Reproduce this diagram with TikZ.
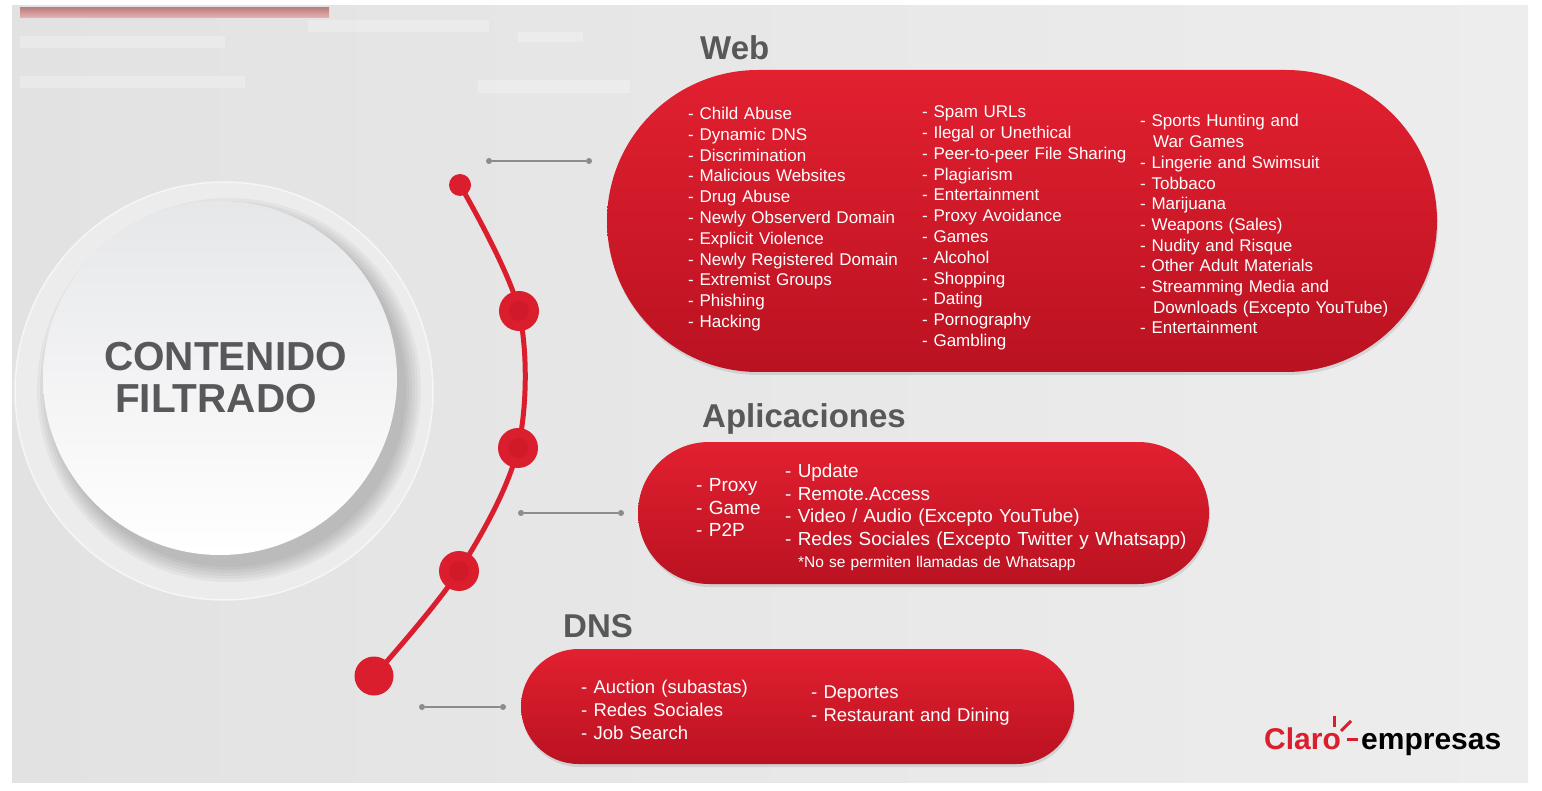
\documentclass[tikz,border=0pt]{standalone}
\usepackage{fontspec}
\setmainfont{Liberation Sans}
\usetikzlibrary{shadows}
\definecolor{claroRed}{RGB}{218,30,45}
\definecolor{pillTop}{RGB}{226,32,48}
\definecolor{pillBottom}{RGB}{186,18,33}
\definecolor{headGray}{RGB}{88,88,90}
\definecolor{lineGray}{RGB}{140,140,140}
\definecolor{panelLeft}{RGB}{226,226,226}
\definecolor{panelRight}{RGB}{237,237,237}
\definecolor{ringGray}{RGB}{236,236,237}
\definecolor{hubTop}{RGB}{230,231,233}
\definecolor{barRose}{RGB}{226,146,146}
\tikzset{
  pill/.style={rectangle, rounded corners=#1, top color=pillTop, bottom color=pillBottom,
    inner sep=0pt, drop shadow={opacity=0.22, shadow xshift=1pt, shadow yshift=-3pt}},
  heading/.style={anchor=base west, inner sep=0pt, text=headGray, font=\fontsize{33}{36}\selectfont\bfseries},
  itemlist/.style={anchor=base west, inner sep=0pt, align=left, text width=420pt, text=white},
  arcdot/.style={circle, fill=claroRed, inner sep=0pt, minimum size=#1},
  endtick/.style={circle, fill=lineGray, inner sep=0pt, minimum size=6pt},
  grayline/.style={lineGray, line width=2.5pt},
  arcline/.style={claroRed, line width=5pt, line cap=round},
}
\begin{document}
\begin{tikzpicture}[x=1pt,y=1pt,yscale=-1,xscale=1]
\useasboundingbox (0,0) rectangle (1542,791);

%Background
\fill[white] (0,0) rectangle (1542,791);
\shade[left color=panelLeft, right color=panelRight] (12,6) rectangle (1528,782);
\shade[top color=barRose!80!black!90, bottom color=barRose!70] (20,8) rectangle (329,18);
\foreach \xa/\ya/\xb/\yb in {308/20/489/32, 518/32/583/42, 20/36/225/48, 20/76/245/88, 478/80/630/93}
  \fill[white, opacity=0.25] (\xa,\ya) rectangle (\xb,\yb);

%Shape: Circle
\fill[ringGray] (224,391) circle [radius=209];
\draw[white, line width=1.5pt, opacity=0.6] (224,391) circle [radius=209];
\foreach \r in {192,189,...,177}
  \fill[black, opacity=0.035] (229,390) circle [radius=\r];
\node[circle, minimum size=354pt, inner sep=0pt, top color=hubTop, bottom color=white] (hub) at (220,378) {};

% Text Node
\node[anchor=base west, inner sep=0pt, align=left, text width=300pt, text=headGray, font=\fontsize{40.5}{42}\selectfont\bfseries]
  (hubtext) at (104,370.7) {CONTENIDO\\\hspace*{11pt}FILTRADO};

%Curve with dots
\coordinate (d0) at (460,185);
\coordinate (d1) at (519,311);
\coordinate (d2) at (518,448);
\coordinate (d3) at (459,571);
\coordinate (d4) at (374,676);
\draw[arcline] plot[smooth, tension=0.55] coordinates {(d0) (d1) (d2) (d3) (d4)};
\node[arcdot=22pt] (dot0) at (d0) {};
\node[arcdot=40pt] (dot1) at (d1) {};
\node[arcdot=40pt] (dot2) at (d2) {};
\node[arcdot=40pt] (dot3) at (d3) {};
\node[arcdot=39pt] (dot4) at (d4) {};
\foreach \d in {dot1,dot2,dot3}
  \fill[pillBottom, opacity=0.3] (\d) circle [radius=10];

%Straight Lines
\node[endtick] (webtickA) at (489,161) {};
\node[endtick] (webtickB) at (589,161) {};
\draw[grayline] (webtickA) -- (webtickB);
\node[endtick] (apptickA) at (521,513) {};
\node[endtick] (apptickB) at (621,513) {};
\draw[grayline] (apptickA) -- (apptickB);
\node[endtick] (dnstickA) at (422,707) {};
\node[endtick] (dnstickB) at (503,707) {};
\draw[grayline] (dnstickA) -- (dnstickB);

%Shape: Rounded Rect
\node[pill=151pt, minimum width=830pt, minimum height=302pt] (webpill) at (1022,221) {};
\node[pill=71pt, minimum width=571pt, minimum height=142pt] (apppill) at (923.5,513) {};
\node[pill=57.5pt, minimum width=553pt, minimum height=115pt] (dnspill) at (797.5,706.5) {};

% Text Node
\node[heading] (webhead) at (700,59.5) {Web};
\node[heading] (apphead) at (702,427) {Aplicaciones};
\node[heading] (dnshead) at (563,637) {DNS};

% Text Node
\node[itemlist, font=\fontsize{17}{20.8}\selectfont] (webcolA) at (688,119.5)
  {- Child Abuse\\- Dynamic DNS\\- Discrimination\\- Malicious Websites\\- Drug Abuse\\- Newly Observerd Domain\\- Explicit Violence\\- Newly Registered Domain\\- Extremist Groups\\- Phishing\\- Hacking};
\node[itemlist, font=\fontsize{17}{20.8}\selectfont] (webcolB) at (922,117.7)
  {- Spam URLs\\- Ilegal or Unethical\\- Peer-to-peer File Sharing\\- Plagiarism\\- Entertainment\\- Proxy Avoidance\\- Games\\- Alcohol\\- Shopping\\- Dating\\- Pornography\\- Gambling};
\node[itemlist, font=\fontsize{17}{20.7}\selectfont] (webcolC) at (1140,127)
  {- Sports Hunting and\\\hspace*{13pt}War Games\\- Lingerie and Swimsuit\\- Tobbaco\\- Marijuana\\- Weapons (Sales)\\- Nudity and Risque\\- Other Adult Materials\\- Streamming Media and\\\hspace*{13pt}Downloads (Excepto YouTube)\\- Entertainment};

% Text Node
\node[itemlist, font=\fontsize{19}{22.5}\selectfont] (appcolA) at (696,491.5)
  {- Proxy\\- Game\\- P2P};
\node[itemlist, font=\fontsize{18.9}{22.5}\selectfont] (appcolB) at (785,477.5)
  {- Update\\- Remote.Access\\- Video / Audio (Excepto YouTube)\\- Redes Sociales (Excepto Twitter y Whatsapp)};
\node[itemlist, font=\fontsize{15.5}{18}\selectfont] (appnote) at (798,567)
  {*No se permiten llamadas de Whatsapp};

% Text Node
\node[itemlist, font=\fontsize{18.5}{23}\selectfont] (dnscolA) at (581,693.5)
  {- Auction (subastas)\\- Redes Sociales\\- Job Search};
\node[itemlist, font=\fontsize{18.5}{23}\selectfont] (dnscolB) at (811,698)
  {- Deportes\\- Restaurant and Dining};

%Logo
\node[anchor=base west, inner sep=0pt, text=claroRed, font=\fontsize{30}{30}\selectfont\bfseries] (claro) at (1264,749) {Claro};
\node[anchor=base west, inner sep=0pt, text=black, font=\fontsize{30}{30}\selectfont\bfseries] (empresas) at (1361,749) {empresas};
\draw[claroRed, line width=3pt] (1334,716) -- (1334,727);
\draw[claroRed, line width=3pt] (1341,731) -- (1351,721);
\draw[claroRed, line width=3pt] (1347,739) -- (1358,739);

\end{tikzpicture}
\end{document}
